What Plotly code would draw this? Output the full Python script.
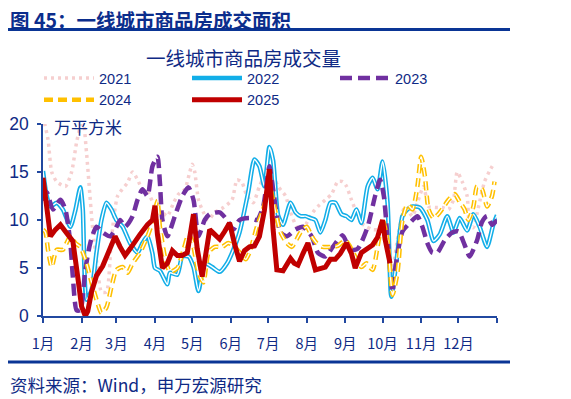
import plotly.graph_objects as go

# ---------------- data ----------------
months = ["1月", "2月", "3月", "4月", "5月", "6月", "7月", "8月", "9月", "10月", "11月", "12月"]
month_start_days = [0, 31, 59, 90, 120, 151, 181, 212, 243, 273, 304, 334, 365]

days_2021 = [0, 4, 7, 11, 18, 23, 27, 30, 32, 35, 40, 44, 47, 51, 55, 60, 68, 72, 76, 80, 84, 90, 96, 100,
             105, 109, 114, 118, 120, 122, 125, 129, 133, 138, 145, 152, 156, 160, 164, 169, 174, 180, 184,
             189, 195, 199, 204, 208, 212, 217, 221, 227, 232, 237, 241, 244, 248, 252, 256, 260, 265, 269,
             275, 280, 285, 291, 297, 301, 306, 310, 315, 321, 326, 330, 333, 337, 341, 343, 346, 350, 355,
             359, 363]
vals_2021 = [20.8, 18.4, 15.0, 14.0, 13.5, 15.0, 18.1, 19.8, 20.8, 17.0, 9.0, 4.8, 2.5, 2.5, 8.0, 12.5, 13.9,
             15.0, 14.2, 13.2, 13.0, 11.4, 10.8, 10.4, 11.8, 12.7, 13.2, 15.0, 15.8, 15.0, 12.1, 10.8, 10.0,
             10.8, 11.3, 12.1, 14.2, 13.9, 12.5, 11.8, 13.5, 15.0, 14.8, 13.5, 12.5, 10.8, 9.3, 9.0, 9.7, 10.8,
             11.4, 12.1, 12.7, 14.0, 14.0, 13.5, 12.1, 10.8, 9.7, 9.3, 9.0, 9.0, 9.5, 4.0, 8.0, 11.4, 10.4,
             11.8, 13.5, 11.4, 11.3, 11.3, 11.1, 12.1, 15.0, 14.0, 12.5, 9.5, 9.2, 11.3, 14.0, 15.1, 16.0]

days_2022 = [0, 3, 6, 11, 16, 22, 26, 30, 32, 35, 39, 43, 47, 51, 55, 59, 64, 70, 76, 80, 84, 88, 90, 94,
             100, 102, 108, 112, 117, 121, 125, 130, 136, 142, 148, 153, 158, 165, 170, 174, 178, 182, 185,
             189, 193, 199, 203, 207, 211, 215, 219, 223, 227, 231, 235, 240, 244, 248, 252, 256, 261, 265,
             269, 273, 277, 280, 284, 289, 293, 297, 303, 309, 314, 319, 325, 330, 335, 341, 346, 351, 357,
             362, 365]
vals_2022 = [15.1, 12.5, 11.4, 11.8, 11.1, 9.3, 11.0, 13.4, 11.1, 1.7, 2.7, 6.6, 10.0, 11.8, 11.1, 10.0, 9.3,
             7.6, 6.6, 7.6, 8.3, 6.5, 5.0, 4.7, 3.3, 4.5, 4.3, 6.2, 6.2, 5.1, 2.6, 5.5, 5.1, 4.6, 5.5, 6.9,
             8.7, 12.9, 16.3, 15.6, 13.5, 17.6, 16.2, 10.5, 9.5, 11.8, 10.8, 10.4, 10.4, 10.2, 10.0, 8.7,
             10.0, 11.8, 11.8, 10.6, 10.4, 10.0, 11.1, 9.7, 13.5, 14.4, 13.2, 16.1, 11.8, 2.0, 5.5, 10.4,
             11.1, 11.4, 11.3, 10.0, 7.8, 8.5, 10.4, 8.7, 10.2, 8.9, 10.6, 9.3, 7.2, 9.5, 10.5]

days_2023 = [0, 3, 8, 14, 18, 22, 24, 27, 30, 34, 38, 43, 48, 54, 58, 62, 66, 72, 76, 80, 84, 88, 92, 94,
             96, 100, 106, 112, 117, 121, 125, 130, 134, 142, 148, 153, 158, 166, 172, 177, 182, 185, 191,
             196, 203, 209, 216, 221, 227, 233, 241, 247, 253, 261, 267, 271, 274, 278, 281, 283, 289, 295,
             301, 305, 309, 313, 317, 323, 329, 334, 339, 343, 349, 353, 357, 361, 365]
vals_2023 = [12.0, 12.9, 11.1, 12.1, 11.1, 7.6, 4.1, 0.6, 0.6, 4.8, 7.6, 9.3, 8.7, 8.3, 9.0, 10.0, 9.3,
             10.4, 12.1, 13.2, 12.5, 15.6, 16.6, 13.9, 10.0, 8.3, 10.4, 12.5, 13.4, 12.1, 8.3, 10.0, 10.6,
             10.8, 10.0, 9.0, 10.0, 10.2, 10.0, 11.4, 15.6, 13.2, 8.7, 8.3, 9.0, 9.3, 8.3, 6.6, 6.2, 7.2,
             8.4, 6.9, 7.0, 9.3, 12.5, 14.2, 12.5, 6.5, 2.5, 4.8, 8.8, 9.7, 10.4, 9.3, 7.6, 6.6, 6.6, 7.9,
             8.7, 8.8, 7.4, 6.2, 7.9, 9.8, 10.4, 9.5, 10.0]

days_2024 = [0, 2, 4, 7, 11, 16, 22, 26, 30, 35, 39, 43, 47, 51, 55, 59, 64, 68, 72, 78, 84, 88, 92, 94,
             98, 102, 108, 113, 117, 120, 125, 129, 133, 138, 144, 149, 154, 159, 163, 166, 172, 177, 182,
             187, 191, 196, 200, 207, 212, 216, 220, 225, 231, 237, 243, 247, 251, 256, 260, 265, 269, 273,
             277, 281, 285, 289, 293, 297, 301, 304, 307, 310, 314, 319, 326, 331, 335, 339, 342, 346, 349,
             353, 357, 361, 363]
vals_2024 = [9.0, 8.7, 6.9, 5.1, 6.9, 6.9, 8.3, 7.6, 7.2, 5.5, 3.5, 1.7, 0.3, 0.9, 3.0, 4.8, 5.1, 4.5, 5.5,
             6.6, 8.3, 9.8, 12.0, 9.3, 6.2, 4.6, 5.0, 6.9, 8.5, 7.8, 4.5, 3.5, 6.6, 7.2, 7.2, 7.6, 7.2, 6.5,
             5.9, 6.6, 9.3, 11.1, 13.5, 10.8, 8.7, 7.6, 7.2, 8.7, 9.3, 8.3, 7.6, 7.2, 7.2, 7.3, 7.9, 7.2,
             6.2, 5.1, 5.5, 4.8, 7.2, 10.0, 7.9, 2.2, 4.5, 10.0, 11.6, 11.1, 13.5, 16.6, 14.6, 11.1, 10.2,
             10.8, 12.1, 12.7, 11.9, 11.1, 10.0, 11.4, 13.5, 13.2, 11.4, 12.5, 14.0]

days_2025 = [0, 3, 6, 10, 14, 18, 22, 24, 28, 31, 34, 36, 39, 43, 48, 52, 58, 62, 66, 70, 74, 78, 84, 88,
             90, 92, 96, 100, 104, 108, 112, 116, 121, 124, 128, 131, 134, 138, 142, 146, 150, 154, 158,
             162, 166, 170, 174, 178, 182, 185, 188, 193, 199, 202, 205, 209, 213, 219, 223, 227, 231, 235,
             239, 244, 248, 251, 256, 261, 265, 269, 273, 275, 279]
vals_2025 = [14.4, 11.5, 8.3, 9.0, 9.5, 8.8, 8.2, 7.8, 4.0, 1.0, 0.0, 0.5, 2.5, 4.2, 5.2, 6.5, 8.3, 7.2,
             6.3, 7.0, 7.8, 8.5, 9.5, 10.0, 11.5, 8.5, 5.0, 5.5, 6.8, 6.3, 6.3, 6.6, 10.6, 7.0, 4.1, 6.5,
             9.0, 8.5, 8.0, 8.8, 9.7, 7.5, 5.7, 6.8, 7.2, 7.3, 8.3, 11.0, 15.3, 9.0, 4.8, 4.7, 6.0, 5.5,
             5.3, 6.5, 7.6, 4.8, 5.0, 5.1, 5.9, 5.9, 6.5, 7.6, 6.5, 5.0, 6.6, 7.0, 7.4, 8.2, 10.0, 8.0, 5.5]

y_ticks = [0, 5, 10, 15, 20]

# ---------------- styling ----------------
NAVY = "#0f2a85"
RULE = "#0a3595"
AXIS = "#2148a0"
FONT = "Liberation Sans, Noto Sans CJK SC, sans-serif"
CJK = "Noto Sans CJK SC, Liberation Sans, sans-serif"

fig = go.Figure()

fig.add_trace(go.Scatter(x=days_2021, y=vals_2021, name="2021", mode="lines",
                         line=dict(color="#f6cfcf", width=3.5, dash="3px,4px", shape="spline", smoothing=0.6)))
fig.add_trace(go.Scatter(x=days_2022, y=vals_2022, name="2022", mode="lines",
                         line=dict(color="#12aee8", width=4.5, shape="spline", smoothing=0.6)))
fig.add_trace(go.Scatter(x=days_2022, y=vals_2022, name="2022", mode="lines", showlegend=False,
                         hoverinfo="skip",
                         line=dict(color="white", width=1.4, shape="spline", smoothing=0.6)))
fig.add_trace(go.Scatter(x=days_2023, y=vals_2023, name="2023", mode="lines",
                         line=dict(color="#7030a0", width=4.5, dash="12px,6px", shape="spline", smoothing=0.6)))
fig.add_trace(go.Scatter(x=days_2024, y=vals_2024, name="2024", mode="lines",
                         line=dict(color="#ffc000", width=4.5, dash="9px,5px", shape="spline", smoothing=0.6)))
fig.add_trace(go.Scatter(x=days_2024, y=vals_2024, name="2024", mode="lines", showlegend=False,
                         hoverinfo="skip",
                         line=dict(color="white", width=1.4, dash="9px,5px", shape="spline", smoothing=0.6)))
fig.add_trace(go.Scatter(x=days_2025, y=vals_2025, name="2025", mode="lines",
                         line=dict(color="#c00000", width=5, shape="linear")))

# page body adds an 8px offset; size the figure so it fills the 571x399 window
OFF = 8
W, H = 571 - OFF, 399 - OFF
PL, PR, PT, PB = 43, 497, 124, 316          # plot area edges in window pixels
L, T = PL - OFF, PT - OFF
R, B = W - (PR - OFF), H - (PB - OFF)
pw, ph = PR - PL, PB - PT


def px_x(p):
    return (p - PL) / pw


def px_y(p):
    return (PB - p) / ph


fig.update_layout(
    width=W, height=H,
    margin=dict(l=L, r=R, t=T, b=B, pad=0, autoexpand=False),
    paper_bgcolor="white", plot_bgcolor="white",
    font=dict(family=FONT, color=NAVY, size=14),
    showlegend=True,
    legend=dict(orientation="h", x=px_x(39), xanchor="left", y=px_y(62), yanchor="top",
                entrywidth=83, entrywidthmode="pixels", itemwidth=50,
                font=dict(family=FONT, size=14.5, color=NAVY), bgcolor="rgba(0,0,0,0)",
                tracegroupgap=0),
    xaxis=dict(range=[0, 365], tickmode="array", tickvals=month_start_days[:-1], ticktext=months,
               automargin=False,
               showgrid=False, zeroline=False, showline=True, linecolor=AXIS, linewidth=1.5,
               ticks="outside", ticklen=5, tickcolor=AXIS, tickwidth=1.5, ticklabelstandoff=9,
               tickfont=dict(family=CJK, size=14.5, color=NAVY),
               minor=dict(tickvals=[365], ticks="outside", ticklen=5, tickcolor=AXIS, tickwidth=1.5)),
    yaxis=dict(range=[0, 20], tickmode="array", tickvals=y_ticks, showgrid=False, zeroline=False,
               automargin=False,
               showline=True, linecolor=AXIS, linewidth=1.5,
               ticks="outside", ticklen=4, tickcolor=AXIS, tickwidth=1.5, ticklabelstandoff=5,
               tickfont=dict(family=FONT, size=17.5, color=NAVY)),
)

fig.add_annotation(text="<b>图 45：一线城市商品房成交面积</b>", xref="paper", yref="paper",
                   x=px_x(8), y=px_y(19), xanchor="left", yanchor="middle", showarrow=False,
                   font=dict(family=CJK, size=19.5, color="#0b2d8c"))
fig.add_annotation(text="一线城市商品房成交量", xref="paper", yref="paper",
                   x=px_x(243), y=px_y(57), xanchor="center", yanchor="middle", showarrow=False,
                   font=dict(family=CJK, size=19.5, color=NAVY))
fig.add_annotation(text="万平方米", xref="paper", yref="paper",
                   x=px_x(52), y=px_y(126), xanchor="left", yanchor="middle", showarrow=False,
                   font=dict(family=CJK, size=17, color=NAVY))
fig.add_annotation(text="资料来源：Wind，申万宏源研究", xref="paper", yref="paper",
                   x=px_x(8), y=px_y(384), xanchor="left", yanchor="middle", showarrow=False,
                   font=dict(family=CJK, size=17.5, color=NAVY))

for yy in (29.5, 362):
    fig.add_shape(type="line", xref="paper", yref="paper", x0=px_x(8), x1=px_x(510),
                  y0=px_y(yy), y1=px_y(yy), line=dict(color=RULE, width=3))

fig.write_html("out.html")
